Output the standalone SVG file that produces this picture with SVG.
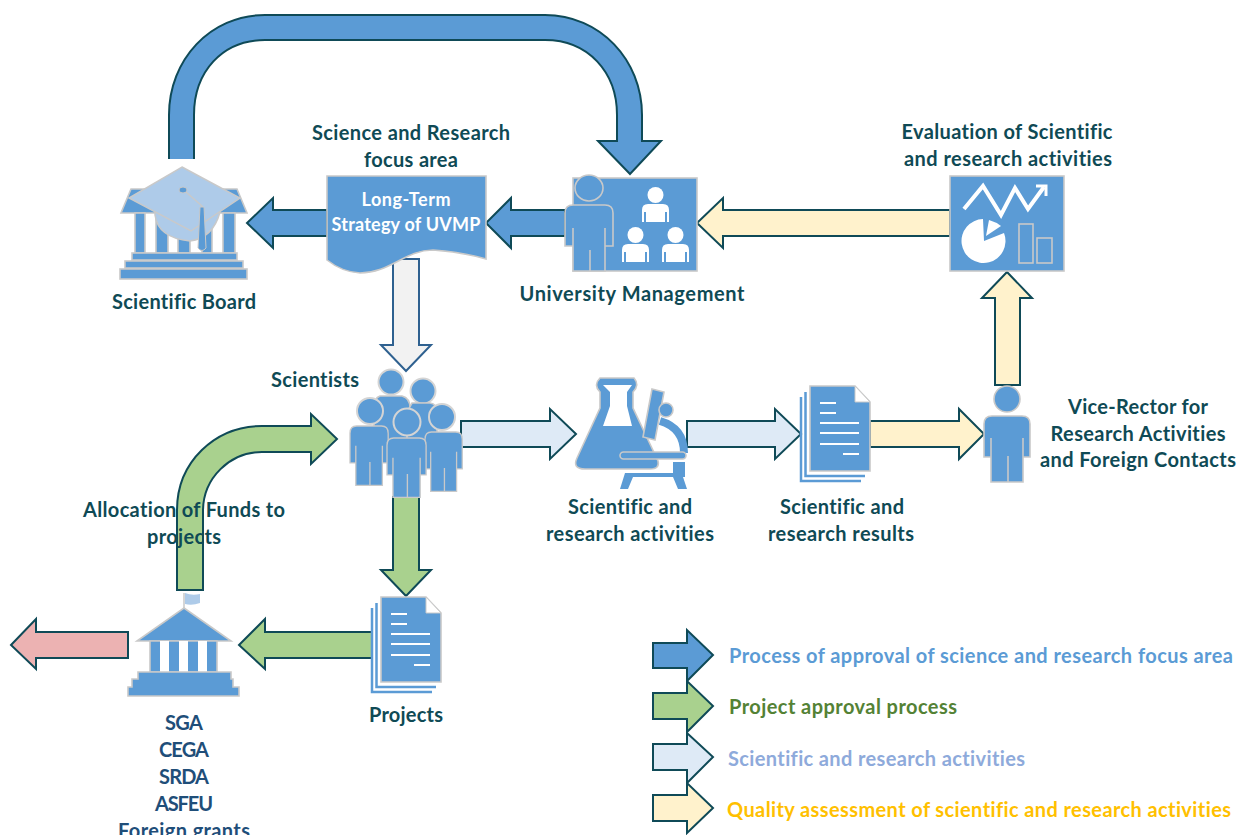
<svg xmlns="http://www.w3.org/2000/svg" xmlns:xlink="http://www.w3.org/1999/xlink" width="1237" height="835" viewBox="0 0 1237 835">
<style>
.arr{stroke:#0f4a57;stroke-width:2;stroke-linejoin:miter}
.b{fill:#5b9bd5}.g{fill:#a9d18e}.l{fill:#deeaf6}.y{fill:#fff2cc}.p{fill:#ecb2b2}
.w{fill:#f2f2f2;stroke:#2f6190;stroke-width:2}
.ic{fill:#5b9bd5;stroke:#c9c9c9;stroke-width:1.600}
.hd{fill:#5b9bd5;stroke:#d4d4d4;stroke-width:2}
.wh{fill:#fff}
.ln{stroke:#fff;stroke-width:2;fill:none}
.t{font-family:"Lato","Liberation Sans",sans-serif;font-weight:700;font-size:20px;text-anchor:middle;fill:#0f4a55;font-variant-ligatures:none}
.d{fill:#1f4e79}
.s{fill:#fff;font-size:18px}
.lg{text-anchor:start;font-size:20px}
</style>
<defs>
<g id="person">
<circle class="ic" cx="23" cy="13" r="13"/>
<path class="ic" d="M8 30H38Q46 30 46 38V71H39V52V96H24V70V96H7V52V71H0V38Q0 30 8 30Z"/>
</g>
<path id="body" class="ic" d="M8 0H38Q46 0 46 8V41H39V22V66H24V40V66H7V22V41H0V8Q0 0 8 0Z"/>
<g id="mini">
<circle class="wh" cx="13.500" cy="8" r="8"/>
<path class="wh" d="M0 35V23Q0 17 6 17H21Q27 17 27 23V35H25V25H23V35H4V25H2V35Z"/>
</g>
<g id="doc">
<path d="M-4.500 6V90H55" fill="none" stroke="#5b9bd5" stroke-width="2.500"/>
<path d="M-9 11V95H51" fill="none" stroke="#5b9bd5" stroke-width="2.500"/>
<path class="ic" d="M0 0H45L60 16V85H0Z"/>
<path d="M45 0L60 16H45Z" fill="#fff" stroke="#c9c9c9" stroke-width="1"/>
<path class="ln" d="M10 17H26M10 27H26M10 37H49M10 47H49M10 58H49M33 68H49"/>
</g>
</defs>

<rect width="1237" height="835" fill="#fff"/>

<g id="connectors">
<path class="arr b" d="M169 159V115C169 60 210 15 265 15H545C600 15 642 60 642 115V141H661L630 174L598 141H617V115C617 72 588 40 545 40H265C222 40 194 72 194 115V159"/>
<path class="arr b" d="M327 210H273V198L247 223L273 248V236H327Z"/>
<path class="arr b" d="M565 210H511V198L486 223L511 248V236H565Z"/>
<path class="arr y" d="M950 210H723V198L697 223L723 248V236H950Z"/>
<path class="arr y" d="M995 385V298H982L1007 272L1032 298H1020V385Z"/>
<path class="w" d="M393 259V345H381L406 371L431 345H419V259Z"/>
<path class="arr l" d="M461 421H550V409L576 434L550 459V447H461Z"/>
<path class="arr l" d="M687 421H775V409L801 434L775 459V447H687Z"/>
<path class="arr y" d="M870 421H959V409L984 434L959 459V447H870Z"/>
<path class="arr g" d="M393 497V570H381L406 596L431 570H419V497Z"/>
<path class="arr g" d="M177 590V510C177 462 215 426 262 426H311V414L337 439L311 464V452H262C230 452 203 478 203 511V590Z"/>
<path class="arr g" d="M372 632H265V619L239 645L265 669V658H372Z"/>
<path class="arr p" d="M128 632H36V619L11 645L36 669V658H128Z"/>
</g>

<g id="scientific-board">
<path class="ic" d="M131 189H237L247 213H121Z"/>
<rect class="ic" x="135" y="213" width="10" height="40"/>
<rect class="ic" x="156" y="213" width="12" height="40"/>
<rect class="ic" x="178" y="213" width="12" height="40"/>
<rect class="ic" x="202" y="213" width="10" height="40"/>
<rect class="ic" x="223" y="213" width="12" height="40"/>
<rect class="ic" x="132" y="253" width="105" height="7"/>
<rect class="ic" x="125" y="261" width="118" height="7"/>
<rect class="ic" x="120" y="269" width="127" height="10"/>
<path d="M155 215Q158 238 190 241Q213 238 220 212V205H155Z" fill="#aecbe9" stroke="#c9c9c9" stroke-width="1.500"/>
<path d="M182 167L240 198L191 231L129 198Z" fill="#aecbe9" stroke="#c9c9c9" stroke-width="1.500"/>
<ellipse cx="183" cy="190" rx="4" ry="3" fill="#5b9bd5" stroke="#c9c9c9"/>
<path d="M186 192L202 206V250" fill="none" stroke="#c9c9c9" stroke-width="1.500"/>
<path d="M200 207H204L206 248Q202 253 198 248Z" fill="#5b9bd5" stroke="#c9c9c9"/>
</g>

<g id="strategy">
<path class="ic" d="M327 176H486V259Q462 252 433 250C405 250 390 273 360 273Q342 272 327 260Z"/>
</g>

<g id="management">
<rect class="ic" x="573" y="178" width="124" height="93"/>
<use xlink:href="#mini" href="#mini" x="642" y="187"/>
<use xlink:href="#mini" href="#mini" x="622" y="227"/>
<use xlink:href="#mini" href="#mini" x="662" y="227"/>
<ellipse class="ic" cx="589" cy="188" rx="14" ry="13"/>
<path class="ic" d="M573 205H605Q613 205 613 213V246H605V228V271H590V250V271H573V228V246H565V213Q565 205 573 205Z"/>
</g>

<g id="evaluation">
<rect class="ic" x="950" y="176" width="114" height="95"/>
<path d="M964 209L983 186L1001 215L1015 188L1028 209L1044 187" fill="none" stroke="#fff" stroke-width="4"/>
<path d="M1036 186H1046V196" fill="none" stroke="#fff" stroke-width="3"/>
<path class="wh" d="M983 219A22 22 0 1 0 1004 233L984 241Z"/>
<path class="wh" d="M989 220L986 236L1001 226Q996 222 989 220Z"/>
<rect x="1019" y="224" width="14" height="39" fill="none" stroke="#c9c9c9" stroke-width="1.600"/>
<rect x="1037" y="238" width="15" height="25" fill="none" stroke="#c9c9c9" stroke-width="1.600"/>
</g>

<g id="scientists">
<circle class="hd" cx="391" cy="382" r="12.500"/>
<path class="ic" d="M380 396H402Q410 398 410 408V440H374V408Q374 398 380 396Z"/>
<circle class="hd" cx="423" cy="391" r="12.500"/>
<path class="ic" d="M412 403H430Q437 404 437 412V440H407V412Z"/>
<circle class="hd" cx="370" cy="411" r="13"/>
<use xlink:href="#body" href="#body" transform="translate(350,426) scale(.83,.9)"/>
<circle class="hd" cx="442" cy="417" r="13"/>
<use xlink:href="#body" href="#body" transform="translate(425,432) scale(.81,.9)"/>
<circle class="hd" cx="407" cy="422" r="13.500"/>
<use xlink:href="#body" href="#body" transform="translate(387,438) scale(.85,.9)"/>
</g>

<g id="lab">
<path class="ic" d="M600 378H634Q640 385 633 392V408L658 461Q660 469 650 469H585Q572 469 577 458L600 408V392Q593 385 600 378Z"/>
<path class="wh" d="M603 385H632L627 392V406L632 426H603L610 406V392Z"/>
<path class="ic" d="M652 389L664 392L655 440L643 437Z"/>
<circle class="ic" cx="666" cy="410" r="7"/>
<path d="M660 421Q684 428 684 453" fill="none" stroke="#5b9bd5" stroke-width="8"/>
<rect class="ic" x="620" y="452" width="66" height="7" rx="3.500"/>
<rect x="673" y="462" width="12" height="14" fill="#5b9bd5"/>
<path fill="#5b9bd5" d="M625 473H685V477H683L687 489H678L673 477H633L628 489H620Z"/>
</g>

<g id="results">
<use xlink:href="#doc" href="#doc" x="810" y="386"/>
</g>

<g id="vice-rector">
<use xlink:href="#person" href="#person" x="984" y="386"/>
</g>

<g id="projects">
<use xlink:href="#doc" href="#doc" x="381" y="597"/>
</g>

<g id="funders">
<path d="M184 609V593" stroke="#c9c9c9" stroke-width="1.500"/>
<path d="M185 593Q192 596 200 594V603Q192 606 185 604Z" fill="#aecbe9"/>
<path class="ic" d="M184 608L231 641H137Z"/>
<path class="ic" d="M150 641H217V672H150Z"/>
<rect class="wh" x="160" y="641" width="9" height="31"/>
<rect class="wh" x="179" y="641" width="9" height="31"/>
<rect class="wh" x="198" y="641" width="9" height="31"/>
<path class="ic" d="M138 672H231V679H233V687H239V696H128V687H132V679H138Z"/>
</g>

<g id="legend">
<path class="arr b" d="M653 643H687V630L713 655L687 681V668H653Z"/>
<path class="arr g" d="M653 693H687V681L713 706L687 732V719H653Z"/>
<path class="arr l" d="M653 744H687V733L713 757L687 783V770H653Z"/>
<path class="arr y" d="M653 795H687V783L713 808L687 833V821H653Z"/>
</g>

<g id="labels">
<text class="t" x="411" y="140" textLength="198">Science and Research</text>
<text class="t" x="411" y="167" textLength="94">focus area</text>
<text class="t s" x="406" y="206" textLength="89">Long-Term</text>
<text class="t s" x="406" y="231" textLength="149">Strategy of UVMP</text>
<text class="t" x="184" y="309" textLength="144">Scientific Board</text>
<text class="t" x="632" y="301" textLength="225">University Management</text>
<text class="t" x="1007" y="139" textLength="211">Evaluation of Scientific</text>
<text class="t" x="1008" y="166" textLength="208">and research activities</text>
<text class="t" x="315" y="387" textLength="88">Scientists</text>
<text class="t" x="1138" y="414" textLength="140">Vice-Rector for</text>
<text class="t" x="1138" y="441" textLength="175">Research Activities</text>
<text class="t" x="1138" y="467" textLength="196">and Foreign Contacts</text>
<text class="t" x="630" y="514" textLength="124">Scientific and</text>
<text class="t" x="630" y="541" textLength="168">research activities</text>
<text class="t" x="842" y="514" textLength="124">Scientific and</text>
<text class="t" x="841" y="541" textLength="146">research results</text>
<text class="t" x="184" y="517" textLength="202">Allocation of Funds to</text>
<text class="t" x="184" y="544" textLength="74">projects</text>
<text class="t" x="406" y="722" textLength="74">Projects</text>
<text class="t d" x="184" y="730" textLength="38">SGA</text>
<text class="t d" x="184" y="757" textLength="50">CEGA</text>
<text class="t d" x="184" y="784" textLength="50">SRDA</text>
<text class="t d" x="184" y="811" textLength="58">ASFEU</text>
<text class="t d" x="184" y="838" textLength="132">Foreign grants</text>
<text class="t lg" x="729" y="663" textLength="504" style="fill:#5b9bd5">Process of approval of science and research focus area</text>
<text class="t lg" x="729" y="714" textLength="228" style="fill:#548235">Project approval process</text>
<text class="t lg" x="728" y="766" textLength="297" style="fill:#8eaadb">Scientific and research activities</text>
<text class="t lg" x="727" y="817" textLength="504" style="fill:#ffc000">Quality assessment of scientific and research activities</text>
</g>
</svg>
